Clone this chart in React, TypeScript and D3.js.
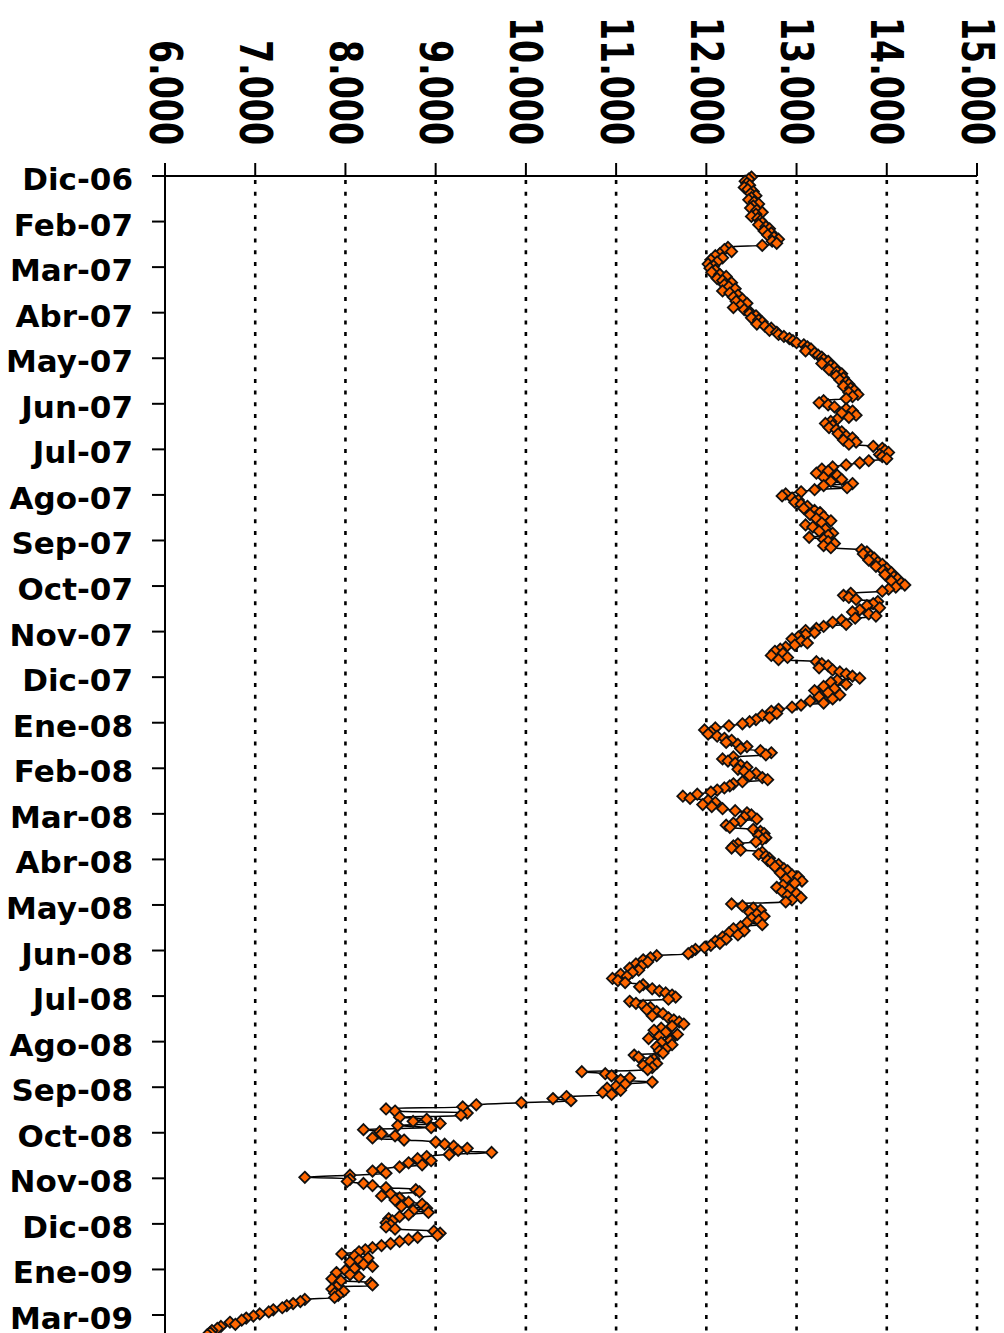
import React from "react";
import * as d3 from "d3";

const monthLabels = ["Dic-06","Feb-07","Mar-07","Abr-07","May-07","Jun-07","Jul-07","Ago-07","Sep-07","Oct-07","Nov-07","Dic-07","Ene-08","Feb-08","Mar-08","Abr-08","May-08","Jun-08","Jul-08","Ago-08","Sep-08","Oct-08","Nov-08","Dic-08","Ene-09","Mar-09"];
const valueTicks = [6, 7, 8, 9, 10, 11, 12, 13, 14, 15];
const pointsPerLabel = 22;

const dic06 = [12.50,12.47,12.43,12.45,12.48,12.42,12.46,12.52,12.49,12.55,12.50,12.47,12.53,12.58,12.52,12.49,12.56,12.62,12.55,12.50,12.57,12.60];
const feb07 = [12.62,12.58,12.66,12.70,12.64,12.72,12.68,12.75,12.80,12.73,12.78,12.62,12.24,12.20,12.28,12.15,12.10,12.18,12.05,12.12,12.02,12.08];
const mar07 = [12.04,12.10,12.06,12.15,12.22,12.12,12.18,12.28,12.20,12.25,12.32,12.18,12.26,12.35,12.30,12.40,12.33,12.45,12.38,12.30,12.42,12.48];
const abr07 = [12.48,12.55,12.50,12.58,12.62,12.56,12.65,12.72,12.70,12.78,12.80,12.86,12.92,12.96,13.00,13.08,13.12,13.16,13.10,13.20,13.24,13.28];
const may07 = [13.30,13.35,13.28,13.38,13.42,13.36,13.45,13.50,13.44,13.52,13.48,13.55,13.58,13.52,13.60,13.64,13.58,13.68,13.62,13.55,13.30,13.25];
const jun07 = [13.35,13.42,13.55,13.62,13.50,13.66,13.58,13.45,13.38,13.32,13.40,13.36,13.44,13.50,13.46,13.55,13.62,13.52,13.66,13.58,13.85,13.95];
const jul07 = [13.98,14.02,13.92,13.95,14.00,13.80,13.70,13.55,13.40,13.28,13.35,13.22,13.45,13.30,13.50,13.38,13.62,13.30,13.56,13.20,13.05,12.88];
const ago07 = [12.84,12.95,13.02,12.98,13.05,13.12,13.08,13.20,13.26,13.15,13.30,13.22,13.38,13.28,13.10,13.18,13.32,13.25,13.40,13.35,13.14,13.30];
const sep07 = [13.35,13.42,13.30,13.38,13.72,13.78,13.74,13.82,13.86,13.80,13.90,13.95,13.88,14.00,13.96,14.05,13.98,14.08,14.12,14.05,14.16,14.20];
const oct07 = [14.10,14.02,13.95,13.60,13.52,13.58,13.66,13.90,13.85,13.78,13.92,13.70,13.62,13.80,13.88,13.65,13.50,13.40,13.55,13.30,13.22,13.10];
const nov07 = [13.20,13.10,13.02,12.95,13.05,13.12,12.98,12.88,12.82,12.76,12.85,12.72,12.90,12.80,13.22,13.28,13.35,13.25,13.40,13.48,13.55,13.62];
const dic07 = [13.70,13.45,13.38,13.55,13.30,13.42,13.20,13.35,13.48,13.25,13.40,13.15,13.30,13.05,12.95,12.80,12.72,12.78,12.62,12.70,12.55,12.48];
const ene08 = [12.40,12.25,12.10,11.98,12.05,12.02,12.12,12.20,12.28,12.22,12.35,12.45,12.38,12.60,12.72,12.66,12.30,12.18,12.24,12.32,12.38,12.45];
const feb08 = [12.35,12.42,12.55,12.48,12.62,12.68,12.40,12.30,12.26,12.20,12.12,12.05,11.90,11.74,11.82,12.02,12.10,11.96,12.06,12.18,12.32,12.45];
const mar08 = [12.50,12.42,12.56,12.38,12.30,12.22,12.26,12.52,12.60,12.64,12.58,12.66,12.62,12.55,12.35,12.30,12.28,12.38,12.62,12.58,12.66,12.70];
const abr08 = [12.68,12.72,12.80,12.76,12.86,12.90,12.82,12.95,13.02,12.88,13.06,12.98,12.85,12.78,12.92,12.84,13.00,12.90,13.05,12.95,12.88,12.28];
const may08 = [12.40,12.52,12.60,12.48,12.56,12.64,12.50,12.58,12.45,12.62,12.38,12.30,12.42,12.25,12.35,12.18,12.22,12.10,12.15,12.05,11.98,11.88];
const jun08 = [11.84,11.80,11.45,11.38,11.30,11.35,11.22,11.28,11.15,11.25,11.18,11.05,11.12,10.96,11.02,11.10,11.30,11.26,11.40,11.48,11.55,11.62];
const jul08 = [11.66,11.58,11.15,11.22,11.30,11.38,11.34,11.45,11.52,11.40,11.58,11.64,11.70,11.75,11.62,11.50,11.42,11.55,11.68,11.48,11.36,11.60];
const ago08 = [11.50,11.62,11.45,11.55,11.48,11.52,11.20,11.25,11.42,11.38,11.45,11.30,11.40,11.35,10.62,10.88,10.95,11.15,11.05,11.40,11.10,11.00];
const sep08 = [10.90,11.05,10.85,10.95,10.45,10.30,10.50,9.95,9.45,9.30,8.45,8.55,9.35,9.28,8.60,8.90,8.75,9.05,8.58,8.95,8.20,8.38];
const oct08 = [8.40,8.55,8.30,8.65,9.00,9.10,9.20,9.35,9.25,9.62,9.15,8.90,8.80,8.95,8.70,8.85,8.60,8.40,8.30,8.45,8.05,7.55];
const nov08 = [8.05,8.02,8.20,8.30,8.45,8.78,8.82,8.50,8.40,8.60,8.55,8.70,8.85,8.62,8.90,8.75,8.92,8.70,8.60,8.48,8.52,8.45];
const dic08 = [8.50,8.45,8.55,8.98,9.05,9.02,8.80,8.70,8.60,8.50,8.40,8.30,8.22,8.15,7.96,8.10,8.25,8.15,8.05,8.20,8.30,8.10];
const ene09 = [8.00,7.90,8.05,8.15,7.85,7.95,8.28,8.30,7.90,7.85,7.98,7.88,7.92,7.88,7.55,7.50,7.42,7.35,7.30,7.20,7.15,7.05];
const mar09 = [6.98,6.90,6.85,6.72,6.78,6.62,6.58,6.52,6.50,6.47];

const series = [
  ...dic06, ...feb07, ...mar07, ...abr07, ...may07, ...jun07, ...jul07, ...ago07,
  ...sep07, ...oct07, ...nov07, ...dic07, ...ene08, ...feb08, ...mar08, ...abr08,
  ...may08, ...jun08, ...jul08, ...ago08, ...sep08, ...oct08, ...nov08, ...dic08,
  ...ene09, ...mar09,
];

const W = 1004;
const H = 1333;
const left = 165;
const right = 977;
const top = 176;
const labelStep = 45.56;

export default function App() {
  const x = d3.scaleLinear().domain([6, 15]).range([left, right]);
  const y = d3
    .scaleLinear()
    .domain([0, pointsPerLabel])
    .range([top, top + labelStep]);

  const pts: [number, number][] = series.map((v, i) => [x(v), y(i + 0.5)]);
  const line = d3
    .line<[number, number]>()
    .x((d) => d[0])
    .y((d) => d[1])
    .curve(d3.curveCatmullRom.alpha(0.5));
  const diamond = "M0,-5.6L5.6,0L0,5.6L-5.6,0Z";

  return (
    <svg
      width={W}
      height={H}
      viewBox={`0 0 ${W} ${H}`}
      style={{ position: "absolute", left: 0, top: 0, display: "block", background: "#fff" }}
    >
      {/* gridlines */}
      {valueTicks.slice(1).map((t) => (
        <line
          key={"g" + t}
          x1={x(t)}
          x2={x(t)}
          y1={top}
          y2={H}
          stroke="#000"
          strokeWidth={2.6}
          strokeDasharray="4 7.7"
          strokeDashoffset={-4}
        />
      ))}
      {/* top axis */}
      <line x1={152} x2={right} y1={top} y2={top} stroke="#000" strokeWidth={2} />
      {valueTicks.map((t) => (
        <line key={"t" + t} x1={x(t)} x2={x(t)} y1={163} y2={top} stroke="#000" strokeWidth={2} />
      ))}
      {valueTicks.map((t) => {
        const s = d3.format(".3f")(t);
        const len = s.length === 5 ? 105 : 128;
        return (
          <text
            key={"tl" + t}
            transform={`translate(${x(t)},${145 - len}) rotate(90)`}
            fontFamily="'DejaVu Sans', sans-serif"
            fontWeight="bold"
            fontSize={45}
            dominantBaseline="central"
            textLength={len}
            lengthAdjust="spacingAndGlyphs"
            fill="#000"
          >
            {s}
          </text>
        );
      })}
      {/* left axis */}
      <line x1={left} x2={left} y1={163} y2={H} stroke="#000" strokeWidth={2} />
      {monthLabels.map((m, k) => (
        <g key={m + k}>
          <line
            x1={152}
            x2={left}
            y1={y(k * pointsPerLabel)}
            y2={y(k * pointsPerLabel)}
            stroke="#000"
            strokeWidth={2}
          />
          <text
            x={133}
            y={y(k * pointsPerLabel) + 3}
            textAnchor="end"
            dominantBaseline="central"
            fontFamily="'DejaVu Sans', sans-serif"
            fontWeight="bold"
            fontSize={31}
            fill="#000"
          >
            {m}
          </text>
        </g>
      ))}
      {/* series line */}
      <path d={line(pts) || ""} fill="none" stroke="#000" strokeWidth={1.5} />
      {pts.map((p, i) => (
        <path
          key={"p" + i}
          d={diamond}
          transform={`translate(${p[0]},${p[1]})`}
          fill="#FF6600"
          stroke="#111"
          strokeWidth={1.8}
        />
      ))}
    </svg>
  );
}
